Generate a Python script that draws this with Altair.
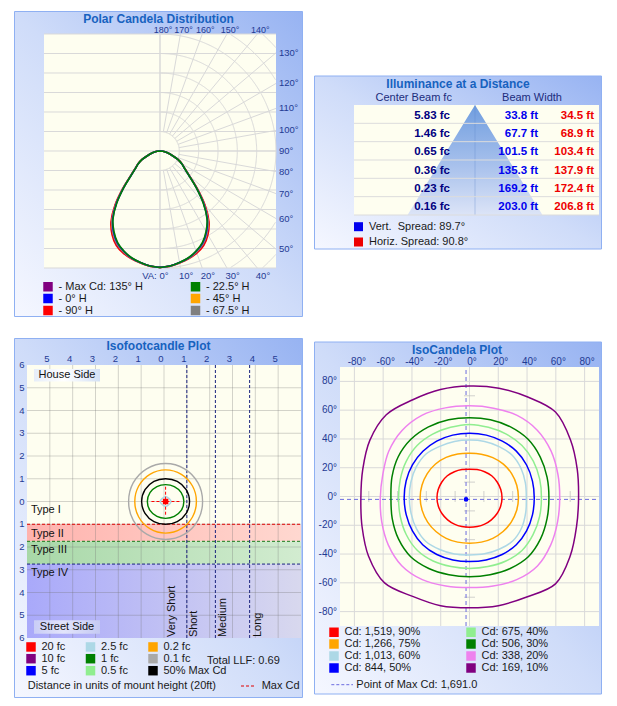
import json
import numpy as np
import pandas as pd
import altair as alt

FONT = "Liberation Sans"
TITLE_COLOR = "#1762bf"
TICK_COLOR = "#1f3a93"
TEXT_COLOR = "#1a1a1a"
FRAME_STROKE = "#8fb0f2"
PLOT_BG = "#fefef0"
GRID = "#d9d9d9"

# ---------------- Polar candela distribution ----------------
POLAR_SERIES = ["- Max Cd: 135° H", "- 0° H", "- 90° H", "- 22.5° H", "- 45° H", "- 67.5° H"]
POLAR_COLORS = ["#800080", "#0000ff", "#ff0000", "#008000", "#ffa500", "#808080"]
POLAR_ANGLES = [0, 5, 10, 15, 20, 25, 30, 35, 40, 45, 50, 55, 60, 65, 70, 75, 80, 85, 90]
CD_90H = [1691, 1680, 1652, 1622, 1578, 1515, 1405, 1252, 1028, 778, 568, 446, 372, 290, 191, 128, 80, 38, 0]
CD_MAX135 = [1691, 1679, 1650, 1616, 1565, 1498, 1385, 1232, 1010, 764, 561, 442, 370, 289, 191, 128, 80, 38, 0]
CD_45H = [1691, 1679, 1649, 1614, 1560, 1490, 1377, 1225, 1005, 761, 559, 441, 370, 289, 190, 128, 80, 38, 0]
CD_675H = [1691, 1679, 1648, 1612, 1556, 1484, 1370, 1218, 999, 757, 557, 440, 369, 288, 190, 128, 80, 38, 0]
CD_0H = [1691, 1678, 1646, 1609, 1551, 1476, 1360, 1208, 992, 752, 554, 439, 368, 288, 190, 128, 80, 38, 0]
CD_225H = [1691, 1678, 1645, 1606, 1546, 1468, 1350, 1200, 985, 748, 552, 438, 368, 288, 190, 128, 80, 38, 0]
POLAR_DRAW = [("- 90° H", CD_90H), ("- Max Cd: 135° H", CD_MAX135), ("- 45° H", CD_45H),
              ("- 67.5° H", CD_675H), ("- 0° H", CD_0H), ("- 22.5° H", CD_225H)]
POLAR_MAX = 1700
POLAR_TICK_LABELS = ["1.700", "1.417", "1,133", "850", "567", "283", "CD: 0",
                     "283", "567", "850", "1.133", "1,417", "1.700"]
POLAR_TOP_ANGLES = [180, 170, 160, 150, 140]
POLAR_RIGHT_ANGLES = [130, 120, 110, 100, 90, 80, 70, 60, 50]
POLAR_BOTTOM_ANGLES = [10, 20, 30, 40]

# ---------------- Illuminance at a distance ----------------
ILLUM_DIST = [17, 34, 51, 68, 85, 102]
ILLUM_FC = [5.83, 1.46, 0.65, 0.36, 0.23, 0.16]
VERT_WIDTH = [33.8, 67.7, 101.5, 135.3, 169.2, 203.0]
HORIZ_WIDTH = [34.5, 68.9, 103.4, 137.9, 172.4, 206.8]
SPREAD_LABELS = ["Vert.\u00a0 Spread: 89.7°", "Horiz. Spread: 90.8°"]
SPREAD_COLORS = ["#0000ee", "#ee0000"]

# ---------------- Isofootcandle ----------------
ISOFC_LEGEND = ["20 fc", "10 fc", "5 fc", "2.5 fc", "1 fc", "0.5 fc", "0.2 fc", "0.1 fc", "50% Max Cd"]
ISOFC_COLORS = ["#ff0000", "#800080", "#0000ff", "#add8e6", "#008000", "#90ee90", "#ffa500", "#a9a9a9", "#000000"]
ISOFC_ANGLES = [0, 30, 60, 90, 120, 150, 180, 210, 240, 270, 300, 330]
ISOFC_CONTOURS = [
    ("0.1 fc", [1.62, 1.64, 1.66, 1.67, 1.66, 1.64, 1.62, 1.64, 1.66, 1.67, 1.66, 1.64]),
    ("0.2 fc", [1.35, 1.36, 1.38, 1.39, 1.38, 1.36, 1.35, 1.36, 1.38, 1.39, 1.38, 1.36]),
    ("50% Max Cd", [1.05, 1.04, 1.02, 1.00, 1.02, 1.04, 1.05, 1.04, 1.02, 1.00, 1.02, 1.04]),
    ("1 fc", [0.80, 0.79, 0.76, 0.74, 0.76, 0.79, 0.80, 0.79, 0.76, 0.74, 0.76, 0.79]),
    ("2.5 fc", [0.24, 0.21, 0.20, 0.22, 0.20, 0.21, 0.24, 0.21, 0.20, 0.22, 0.20, 0.21]),
]
ISOFC_CENTER = (0.07, 0.0)
ISOFC_TYPES = ["Type I", "Type II", "Type III", "Type IV"]
ISOFC_TYPE_Y = [0.36, 1.42, 2.13, 3.13]
ISOFC_BANDS = [(1.0, 1.75, "#ffb3ae", "#ffd8d0"), (1.75, 2.75, "#a8d8a8", "#d2ecd0"), (2.75, 6.0, "#a9a9fa", "#d8d8ee")]
ISOFC_BAND_LINES = [(1.0, "#e00000"), (1.75, "#1a7a1a"), (2.75, "#1a237e")]
ISOFC_DIST_LINES = [1.0, 2.25, 3.75]
ISOFC_DIST_LABELS = ["Very Short", "Short", "Medium", "Long"]
ISOFC_DIST_X = [0.36, 1.32, 2.57, 4.13]
ISOFC_TOP_TICKS = [-5, -4, -3, -2, -1, 0, 1, 2, 3, 4, 5]
ISOFC_TOP_LABELS = ["5", "4", "3", "2", "1", "0", "1", "2", "3", "4", "5"]
ISOFC_SIDE_TICKS = [-6, -5, -4, -3, -2, -1, 0, 1, 2, 3, 4, 5, 6]
ISOFC_SIDE_LABELS = ["6", "5", "4", "3", "2", "1", "0", "1", "2", "3", "4", "5", "6"]

# ---------------- IsoCandela ----------------
ISOCD_LEGEND = ["Cd: 1,519, 90%", "Cd: 1,266, 75%", "Cd: 1,013, 60%", "Cd: 844, 50%",
                "Cd: 675, 40%", "Cd: 506, 30%", "Cd: 338, 20%", "Cd: 169, 10%"]
ISOCD_COLORS = ["#ff0000", "#ffa500", "#add8e6", "#0000ff", "#90ee90", "#008000", "#ee82ee", "#800080"]
ISOCD_ANGLES = list(range(0, 360, 15))
ISOCD_RADII = [
    ("Cd: 169, 10%", [75.8, 77.5, 81.0, 84.5, 81.0, 79.0, 77.8, 78.0, 78.8, 81.8, 80.0, 76.8,
                      75.5, 77.3, 81.0, 83.5, 79.0, 77.5, 76.3, 77.5, 79.5, 84.5, 80.8, 77.0]),
    ("Cd: 338, 20%", [62.7, 63.6, 65.4, 66.6, 66.2, 64.6, 64.0, 64.8, 66.3, 66.3, 64.8, 62.4,
                      62.0, 63.2, 65.2, 66.6, 65.6, 63.4, 62.3, 63.4, 65.6, 66.8, 65.2, 63.4]),
    ("Cd: 506, 30%", [55.2, 55.8, 56.8, 57.6, 57.0, 56.2, 55.7, 56.2, 57.0, 57.6, 57.2, 55.8,
                      54.6, 55.6, 57.0, 57.8, 56.6, 55.2, 54.7, 55.2, 56.6, 57.8, 57.0, 55.8]),
    ("Cd: 675, 40%", [50.0, 50.5, 51.2, 51.6, 51.2, 50.8, 51.1, 50.8, 51.2, 51.5, 50.8, 49.8,
                      49.3, 49.8, 50.8, 51.4, 50.6, 49.4, 49.0, 49.4, 50.6, 51.6, 51.0, 50.4]),
    ("Cd: 844, 50%", [45.0, 45.3, 45.8, 46.0, 45.6, 45.2, 45.0, 45.2, 45.6, 45.8, 45.8, 45.6,
                      45.4, 45.5, 45.8, 46.0, 45.4, 44.6, 44.2, 44.6, 45.4, 46.0, 45.8, 45.3]),
    ("Cd: 1,013, 60%", [39.5, 40.2, 41.3, 42.0, 41.2, 40.6, 40.2, 40.6, 41.4, 43.0, 42.8, 42.2,
                        41.8, 42.0, 42.6, 42.8, 41.4, 40.4, 39.6, 40.2, 41.2, 42.4, 41.8, 40.4]),
    ("Cd: 1,266, 75%", [34.0, 34.0, 33.8, 33.3, 32.4, 31.5, 31.0, 31.6, 32.5, 33.4, 33.9, 34.2,
                        34.3, 34.0, 33.6, 33.0, 32.4, 31.8, 31.5, 31.8, 32.4, 33.0, 33.5, 33.9]),
    ("Cd: 1,519, 90%", [22.6, 22.5, 22.2, 21.8, 21.0, 20.4, 20.0, 20.4, 21.0, 21.8, 22.2, 22.5,
                        22.6, 22.4, 22.0, 21.5, 21.0, 20.6, 20.4, 20.6, 21.0, 21.5, 22.0, 22.4]),
]
ISOCD_CENTER = (0.0, -1.0)
MAX_CD_POINT = (-2.4, -2.0)
ISOCD_TICKS = [-80, -60, -40, -20, 0, 20, 40, 60, 80]
ISOCD_TICK_LABELS = ["-80°", "-60°", "-40°", "-20°", "0°", "20°", "40°", "60°", "80°"]
ISOCD_MINOR = [-70, -50, -30, -10, 10, 30, 50, 70]

ONE = pd.DataFrame({"k": [0]})


def lin_grad(stops, x1=0, y1=0, x2=1, y2=0):
    return alt.LinearGradient(gradient="linear", x1=x1, y1=y1, x2=x2, y2=y2,
                              stops=[alt.GradientStop(color=c, offset=o) for o, c in stops])


FRAME_GRAD = lin_grad([(0, "#f5f7ff"), (0.5, "#cfdcf9"), (1, "#97b3f2")], 0, 1, 1, 0)


def frame(x0, x1, y0, y1):
    return alt.Chart(ONE).mark_rect(fill=FRAME_GRAD, stroke=FRAME_STROKE, strokeWidth=1).encode(
        x=alt.value(x0), x2=alt.value(x1), y=alt.value(y0), y2=alt.value(y1))


def txt(text, x, y, size=11, weight="normal", color=TEXT_COLOR, align="center"):
    return alt.Chart(ONE).mark_text(text=text, font=FONT, fontSize=size, fontWeight=weight,
                                    color=color, align=align, baseline="middle").encode(
        x=alt.value(x), y=alt.value(y))


def axis(orient, values, expr, pad, offset, size=9.5):
    return alt.Axis(orient=orient, values=values, labelExpr=expr, ticks=False, domain=False, grid=False,
                    labelFont=FONT, labelFontSize=size, labelColor=TICK_COLOR, labelPadding=pad,
                    offset=offset, labelFlush=False, labelOverlap=False, title=None, zindex=1)


def square_legend(domain, colors, lx, ly, cols, colpad, rowpad):
    # carrier of the legend; drawn first so the panel frame covers its marks
    return alt.Chart(pd.DataFrame({"c": domain})).mark_square(filled=True, size=10).encode(
        x=alt.value(lx + 5), y=alt.value(ly + 5),
        color=alt.Color("c:N", scale=alt.Scale(domain=domain, range=colors),
                        legend=alt.Legend(title=None, orient="none", legendX=lx, legendY=ly, columns=cols,
                                          columnPadding=colpad, rowPadding=rowpad, symbolType="square",
                                          symbolSize=90, symbolStrokeWidth=0, symbolOpacity=1,
                                          labelFont=FONT, labelFontSize=11, labelColor=TEXT_COLOR,
                                          labelOffset=5, padding=0, zindex=1)))


# ======================= Panel 1: polar (cell 289 x 306) =======================
P_CW, P_CH = 289, 306
PSTEP = POLAR_MAX / 6
PXS = alt.Scale(domain=[-POLAR_MAX, POLAR_MAX], range=[30, 262], nice=False, zero=False)
PYS = alt.Scale(domain=[-POLAR_MAX, POLAR_MAX], range=[257, 23], nice=False, zero=False)


def pX(f):
    return alt.X(f, scale=PXS, axis=None)


def pY(f, ax=None):
    return alt.Y(f, scale=PYS, axis=ax)


pol_rows = []
for name, vals in POLAR_DRAW:
    for a, cd in zip(POLAR_ANGLES, vals):
        t = np.radians(a)
        for s in (-1, 1):
            pol_rows.append({"series": name, "a": s * a, "x": s * cd * np.sin(t), "y": -cd * np.cos(t)})
pol_df = pd.DataFrame(pol_rows)

arc_rows = []
seg = 0
for k in range(1, 9):
    r = k * PSTEP
    prev_in = False
    for a10 in range(0, 1801, 5):
        t = np.radians(a10 / 10)
        x, y = r * np.sin(t), -r * np.cos(t)
        inside = abs(x) <= POLAR_MAX + 1e-6 and abs(y) <= POLAR_MAX + 1e-6
        if inside:
            if not prev_in:
                seg += 1
            arc_rows.append({"seg": seg, "a": a10, "x": x, "y": y})
        prev_in = inside
arc_df = pd.DataFrame(arc_rows)

rad_rows = []
for a in range(0, 181, 10):
    t = np.radians(a)
    s, c = np.sin(t), np.cos(t)
    lim = min(POLAR_MAX / abs(s) if abs(s) > 1e-9 else 1e9, POLAR_MAX / abs(c) if abs(c) > 1e-9 else 1e9)
    rad_rows.append({"x": PSTEP * s, "y": -PSTEP * c, "x2": lim * s, "y2": -lim * c})
rad_df = pd.DataFrame(rad_rows)

top_df = pd.DataFrame({"a": POLAR_TOP_ANGLES})
top_df["x"] = POLAR_MAX * np.tan(np.radians(180 - top_df["a"]))
top_df["y"] = POLAR_MAX
top_df["t"] = top_df["a"].astype(str) + "°"
right_df = pd.DataFrame({"a": POLAR_RIGHT_ANGLES})
right_df["x"] = POLAR_MAX
right_df["y"] = -POLAR_MAX * np.cos(np.radians(right_df["a"])) / np.sin(np.radians(right_df["a"]))
right_df["t"] = right_df["a"].astype(str) + "°"
bot_df = pd.DataFrame({"a": POLAR_BOTTOM_ANGLES})
bot_df["x"] = POLAR_MAX * np.tan(np.radians(bot_df["a"]))
bot_df["y"] = -POLAR_MAX
bot_df["t"] = bot_df["a"].astype(str) + "°"
va_df = pd.DataFrame({"x": [0], "y": [-POLAR_MAX], "t": ["VA: 0°"]})

POLAR_TICKS = [k * PSTEP for k in range(-6, 7)]
POLAR_EXPR = json.dumps(POLAR_TICK_LABELS) + "[round(datum.value / %.6f) + 6]" % PSTEP
PBOX = pd.DataFrame({"x0": [-POLAR_MAX], "x1": [POLAR_MAX], "y0": [-POLAR_MAX], "y1": [POLAR_MAX]})


def ptext(df, size=9.5, **kw):
    return alt.Chart(df).mark_text(font=FONT, fontSize=size, color=TICK_COLOR, baseline="middle", **kw).encode(
        x=pX("x:Q"), y=pY("y:Q"), text="t:N")


hgrid_df = pd.DataFrame({"v": POLAR_TICKS, "x0": -POLAR_MAX, "x1": POLAR_MAX})

polar = alt.layer(
    square_legend(POLAR_SERIES, POLAR_COLORS, 28.5, 270, 2, 46.5, 0),
    frame(0.5, P_CW - 0.5, 0.5, P_CH - 0.5),
    alt.Chart(PBOX).mark_rect(fill=PLOT_BG).encode(x=pX("x0:Q"), x2="x1:Q", y=pY("y0:Q"), y2="y1:Q"),
    alt.Chart(hgrid_df).mark_rule(color=GRID).encode(
        y=pY("v:Q", axis("left", POLAR_TICKS, POLAR_EXPR, 4, -30)), x=pX("x0:Q"), x2="x1:Q"),
    alt.Chart(pd.DataFrame({"v": [0], "y0": [-POLAR_MAX], "y1": [POLAR_MAX]})).mark_rule(color=GRID).encode(
        x=pX("v:Q"), y=pY("y0:Q"), y2="y1:Q"),
    alt.Chart(arc_df).mark_line(color=GRID, strokeWidth=1).encode(
        x=pX("x:Q"), y=pY("y:Q"), detail="seg:N", order="a:Q"),
    alt.Chart(rad_df).mark_rule(color=GRID).encode(x=pX("x:Q"), y=pY("y:Q"), x2="x2:Q", y2="y2:Q"),
    alt.Chart(pol_df).mark_line(strokeWidth=1.6, interpolate="cardinal").encode(
        x=pX("x:Q"), y=pY("y:Q"), order="a:Q",
        stroke=alt.Stroke("series:N", scale=alt.Scale(domain=POLAR_SERIES, range=POLAR_COLORS), legend=None)),
    ptext(top_df, size=9, align="center", dx=3, dy=-4),
    ptext(right_df, align="left", dx=3),
    ptext(bot_df, align="left", dx=-1.5, dy=8),
    ptext(va_df, align="right", dx=8.5, dy=8),
    txt("Polar Candela Distribution", 144.5, 8, 12, "bold", TITLE_COLOR),
).properties(width=P_CW, height=P_CH)

# ======================= Panel 2: illuminance (cell 288 x 306) =======================
I_CW, I_CH = 288, 306
IXS = alt.Scale(domain=[-182, 186.5], range=[40, 285], nice=False, zero=False)
IYS = alt.Scale(domain=[0, 102], range=[94, 204], nice=False, zero=False)


def iX(f):
    return alt.X(f, scale=IXS, axis=None)


def iY(f, ax=None):
    return alt.Y(f, scale=IYS, axis=ax)


tri_df = pd.DataFrame({"d": [0] + ILLUM_DIST, "w": [0.0] + VERT_WIDTH})
tri_df["xl"] = -tri_df["w"] / 2
tri_df["xr"] = tri_df["w"] / 2
TRI_GRAD = lin_grad([(0, "#6f9ddf"), (0.55, "#a8c1ec"), (1, "#dce4f7")], 0, 0, 0, 1)

row_df = pd.DataFrame({"d": ILLUM_DIST,
                       "fc": ["%.2f fc" % v for v in ILLUM_FC],
                       "vw": ["%.1f ft" % v for v in VERT_WIDTH],
                       "hw": ["%.1f ft" % v for v in HORIZ_WIDTH]})
row_df["yc"] = row_df["d"] - 8.5
v_df = row_df.assign(plane=SPREAD_LABELS[0], t=row_df["vw"])
h_df = row_df.assign(plane=SPREAD_LABELS[1], t=row_df["hw"])
spread_color = alt.Color("plane:N", scale=alt.Scale(domain=SPREAD_LABELS, range=SPREAD_COLORS),
                         legend=alt.Legend(title=None, orient="none", legendX=39, legendY=210.2,
                                           rowPadding=3.3, symbolType="square", symbolSize=81,
                                           symbolStrokeWidth=0, labelFont=FONT, labelFontSize=11,
                                           labelColor=TEXT_COLOR, labelOffset=5, padding=0, zindex=1))


def beam_text(df, xpix):
    return alt.Chart(df).mark_text(font=FONT, fontSize=11.5, fontWeight="bold", align="right",
                                   baseline="middle", dy=1.5).encode(
        x=alt.value(xpix), y=iY("yc:Q"), text="t:N", color=spread_color)


IBOX = pd.DataFrame({"x0": [-182], "x1": [186.5], "y0": [0], "y1": [102]})

illum = alt.layer(
    frame(0.5, I_CW - 0.5, 65, 238),
    alt.Chart(IBOX).mark_rect(fill=PLOT_BG).encode(x=iX("x0:Q"), x2="x1:Q", y=iY("y0:Q"), y2="y1:Q"),
    alt.Chart(tri_df).mark_area(orient="horizontal", color=TRI_GRAD).encode(
        x=iX("xl:Q"), x2="xr:Q", y=iY("d:Q")),
    alt.Chart(pd.DataFrame({"x": [0], "y0": [0], "y1": [102]})).mark_rule(color="#5f86c8", opacity=0.35).encode(
        x=iX("x:Q"), y=iY("y0:Q"), y2="y1:Q"),
    alt.Chart(pd.DataFrame({"v": ILLUM_DIST, "x0": -182, "x1": 186.5})).mark_rule(color="#dcdcdc").encode(
        y=iY("v:Q", axis("left", ILLUM_DIST, "format(datum.value, '.1f') + 'ft'", 3, -40)),
        x=iX("x0:Q"), x2="x1:Q"),
    alt.Chart(row_df).mark_text(font=FONT, fontSize=11.5, fontWeight="bold", align="right",
                                baseline="middle", dy=1.5, color="#000080").encode(
        x=alt.value(136), y=iY("yc:Q"), text="fc:N"),
    beam_text(v_df, 224),
    beam_text(h_df, 280),
    txt("Illuminance at a Distance", 144, 73, 12, "bold", TITLE_COLOR),
    txt("Center Beam fc", 99.7, 86.7, 11, color="#1c2c7c"),
    txt("Beam Width", 218, 86.7, 11, color="#1c2c7c"),
).properties(width=I_CW, height=I_CH)

# ======================= Panel 3: isofootcandle (cell 289 x 360) =======================
F_CW, F_CH = 289, 360
FXS = alt.Scale(domain=[-6, 6], range=[13, 287], nice=False, zero=False)
FYS = alt.Scale(domain=[-6, 6], range=[27, 300], nice=False, zero=False)


def fX(f):
    return alt.X(f, scale=FXS, axis=None)


def fY(f):
    return alt.Y(f, scale=FYS, axis=None)


def band(y0, y1, c0, c1):
    return alt.Chart(pd.DataFrame({"x0": [-6], "x1": [6], "y0": [y0], "y1": [y1]})).mark_rect(
        fill=lin_grad([(0, c0), (1, c1)])).encode(x=fX("x0:Q"), x2="x1:Q", y=fY("y0:Q"), y2="y1:Q")


def band_line(yv, col):
    return alt.Chart(pd.DataFrame({"y": [yv], "x0": [-6], "x1": [6]})).mark_rule(
        strokeDash=[3, 2], strokeWidth=1, color=col).encode(y=fY("y:Q"), x=fX("x0:Q"), x2="x1:Q")


fc_rows = []
for name, radii in ISOFC_CONTOURS:
    for a, r in zip(ISOFC_ANGLES, radii):
        t = np.radians(a)
        fc_rows.append({"level": name, "a": a,
                        "x": ISOFC_CENTER[0] + r * np.cos(t), "y": ISOFC_CENTER[1] + r * np.sin(t)})
fc_df = pd.DataFrame(fc_rows)

cross_df = pd.DataFrame({"x0": [-0.55, ISOFC_CENTER[0]], "x1": [0.7, ISOFC_CENTER[0]],
                         "y0": [ISOFC_CENTER[1], -0.65], "y1": [ISOFC_CENTER[1], 0.65]})

SIDE_BOX_GRAD = lin_grad([(0, "#e6edf9"), (0.45, "#ffffff"), (1, "#d3e0f5")])
STREET_BOX_GRAD = lin_grad([(0, "#c9cdf6"), (0.45, "#e2e4fb"), (1, "#c5caf3")])
FBOX = pd.DataFrame({"x0": [-6], "x1": [6], "y0": [-6], "y1": [6]})

isofc = alt.layer(
    square_legend(ISOFC_LEGEND, ISOFC_COLORS, 11.5, 303.2, 3, 19.5, 0),
    frame(0.5, F_CW - 0.5, 0.5, F_CH - 0.5),
    alt.Chart(FBOX).mark_rect(fill=PLOT_BG).encode(x=fX("x0:Q"), x2="x1:Q", y=fY("y0:Q"), y2="y1:Q"),
    *[band(y0, y1, c0, c1) for (y0, y1, c0, c1) in ISOFC_BANDS],
    alt.Chart(pd.DataFrame({"v": ISOFC_TOP_TICKS, "y0": -6, "y1": 6})).mark_rule(color="#707070", opacity=0.3).encode(
        x=fX("v:Q"), y=fY("y0:Q"), y2="y1:Q"),
    alt.Chart(pd.DataFrame({"v": ISOFC_TOP_TICKS, "x0": -6, "x1": 6})).mark_rule(color="#707070", opacity=0.3).encode(
        y=fY("v:Q"), x=fX("x0:Q"), x2="x1:Q"),
    alt.Chart(pd.DataFrame({"v": ISOFC_TOP_TICKS, "t": ISOFC_TOP_LABELS})).mark_text(
        font=FONT, fontSize=9.5, color=TICK_COLOR, align="center", baseline="middle", dx=-3).encode(
        x=fX("v:Q"), y=alt.value(21), text="t:N"),
    alt.Chart(pd.DataFrame({"v": ISOFC_SIDE_TICKS, "t": ISOFC_SIDE_LABELS})).mark_text(
        font=FONT, fontSize=9.5, color=TICK_COLOR, align="right", baseline="middle").encode(
        x=alt.value(10.5), y=fY("v:Q"), text="t:N"),
    *[band_line(yv, col) for (yv, col) in ISOFC_BAND_LINES],
    alt.Chart(pd.DataFrame({"x": ISOFC_DIST_LINES, "y0": -6, "y1": 6})).mark_rule(
        color="#1a237e", strokeDash=[3, 2], strokeWidth=1).encode(x=fX("x:Q"), y=fY("y0:Q"), y2="y1:Q"),
    alt.Chart(pd.DataFrame({"x": [-5.83] * 4, "y": ISOFC_TYPE_Y, "t": ISOFC_TYPES})).mark_text(
        font=FONT, fontSize=11, color="#111111", align="left", baseline="middle").encode(
        x=fX("x:Q"), y=fY("y:Q"), text="t:N"),
    alt.Chart(pd.DataFrame({"x": ISOFC_DIST_X, "y": [5.96] * 4, "t": ISOFC_DIST_LABELS})).mark_text(
        font=FONT, fontSize=11, color="#111111", align="left", baseline="middle", angle=270).encode(
        x=fX("x:Q"), y=fY("y:Q"), text="t:N"),
    alt.Chart(fc_df).mark_line(strokeWidth=1.4, interpolate="cardinal-closed").encode(
        x=fX("x:Q"), y=fY("y:Q"), order="a:Q",
        stroke=alt.Stroke("level:N", scale=alt.Scale(domain=ISOFC_LEGEND, range=ISOFC_COLORS), legend=None)),
    alt.Chart(cross_df).mark_rule(color="#ff0000", strokeDash=[3, 2], strokeWidth=1).encode(
        x=fX("x0:Q"), x2="x1:Q", y=fY("y0:Q"), y2="y1:Q"),
    alt.Chart(pd.DataFrame({"x": [ISOFC_CENTER[0]], "y": [ISOFC_CENTER[1]]})).mark_square(
        size=30, color="#ff0000", filled=True, opacity=1).encode(x=fX("x:Q"), y=fY("y:Q")),
    alt.Chart(ONE).mark_rect(fill=SIDE_BOX_GRAD).encode(
        x=alt.value(20), x2=alt.value(86), y=alt.value(31), y2=alt.value(43.5)),
    txt("House Side", 53, 37.3, 11, color="#111111"),
    alt.Chart(ONE).mark_rect(fill=STREET_BOX_GRAD).encode(
        x=alt.value(20), x2=alt.value(86), y=alt.value(282.3), y2=alt.value(295.7)),
    txt("Street Side", 53, 289, 11, color="#111111"),
    txt("Isofootcandle Plot", 144.5, 8, 12, "bold", TITLE_COLOR),
    txt("Total LLF: 0.69", 193, 322.7, 11, align="left"),
    txt("Distance in units of mount height (20ft)", 13.7, 348.3, 11, align="left"),
    alt.Chart(ONE).mark_rule(color="#e00000", strokeDash=[3, 2], strokeWidth=1).encode(
        x=alt.value(227), x2=alt.value(242), y=alt.value(348)),
    txt("Max Cd", 247.7, 348.3, 11, align="left"),
).properties(width=F_CW, height=F_CH)

# ======================= Panel 4: isocandela (cell 288 x 360) =======================
C_CW, C_CH = 288, 360
CXS = alt.Scale(domain=[-90, 90], range=[26, 285], nice=False, zero=False)
CYS = alt.Scale(domain=[-90, 90], range=[288, 29], nice=False, zero=False)


def cX(f):
    return alt.X(f, scale=CXS, axis=None)


def cY(f):
    return alt.Y(f, scale=CYS, axis=None)


cd_rows = []
for name, radii in ISOCD_RADII:
    for a, r in zip(ISOCD_ANGLES, radii):
        t = np.radians(a)
        cd_rows.append({"level": name, "a": a,
                        "x": ISOCD_CENTER[0] + r * np.cos(t), "y": ISOCD_CENTER[1] + r * np.sin(t)})
cd_df = pd.DataFrame(cd_rows)
CBOX = pd.DataFrame({"x0": [-90], "x1": [90], "y0": [-90], "y1": [90]})
cd_tick_df = pd.DataFrame({"v": ISOCD_TICKS, "t": ISOCD_TICK_LABELS})

isocd = alt.layer(
    square_legend(ISOCD_LEGEND, ISOCD_COLORS, 14.5, 288.5, 2, 45, 0),
    frame(0.5, C_CW - 0.5, 4, 356),
    alt.Chart(CBOX).mark_rect(fill=PLOT_BG).encode(x=cX("x0:Q"), x2="x1:Q", y=cY("y0:Q"), y2="y1:Q"),
    alt.Chart(pd.DataFrame({"v": ISOCD_TICKS, "y0": -90, "y1": 90})).mark_rule(color=GRID).encode(
        x=cX("v:Q"), y=cY("y0:Q"), y2="y1:Q"),
    alt.Chart(pd.DataFrame({"v": ISOCD_TICKS, "x0": -90, "x1": 90})).mark_rule(color=GRID).encode(
        y=cY("v:Q"), x=cX("x0:Q"), x2="x1:Q"),
    alt.Chart(cd_tick_df).mark_text(font=FONT, fontSize=10, color=TICK_COLOR, align="center",
                                    baseline="middle", dx=2.5).encode(
        x=cX("v:Q"), y=alt.value(24), text="t:N"),
    alt.Chart(cd_tick_df).mark_text(font=FONT, fontSize=10, color=TICK_COLOR, align="right",
                                    baseline="middle").encode(
        x=alt.value(23), y=cY("v:Q"), text="t:N"),
    alt.Chart(pd.DataFrame({"z": [0] * 8, "v": ISOCD_MINOR})).mark_tick(
        orient="horizontal", size=11, thickness=1, color="#bdbdbd").encode(x=cX("z:Q"), y=cY("v:Q")),
    alt.Chart(pd.DataFrame({"z": [0] * 8, "v": ISOCD_MINOR})).mark_tick(
        orient="vertical", size=11, thickness=1, color="#bdbdbd").encode(x=cX("v:Q"), y=cY("z:Q")),
    alt.Chart(pd.DataFrame({"x": [MAX_CD_POINT[0]], "y0": [-90], "y1": [90]})).mark_rule(
        color="#6b6bdf", strokeDash=[4, 3], strokeWidth=1).encode(x=cX("x:Q"), y=cY("y0:Q"), y2="y1:Q"),
    alt.Chart(pd.DataFrame({"y": [MAX_CD_POINT[1]], "x0": [-90], "x1": [90]})).mark_rule(
        color="#6b6bdf", strokeDash=[4, 3], strokeWidth=1).encode(y=cY("y:Q"), x=cX("x0:Q"), x2="x1:Q"),
    alt.Chart(cd_df).mark_line(strokeWidth=1.5, interpolate="cardinal-closed").encode(
        x=cX("x:Q"), y=cY("y:Q"), order="a:Q",
        stroke=alt.Stroke("level:N", scale=alt.Scale(domain=ISOCD_LEGEND, range=ISOCD_COLORS), legend=None)),
    alt.Chart(pd.DataFrame({"x": [MAX_CD_POINT[0]], "y": [MAX_CD_POINT[1]]})).mark_circle(
        size=22, color="#0000ff", opacity=1).encode(x=cX("x:Q"), y=cY("y:Q")),
    txt("IsoCandela Plot", 143, 12, 12, "bold", TITLE_COLOR),
    alt.Chart(ONE).mark_rule(color="#6b6bdf", strokeDash=[3, 2], strokeWidth=1).encode(
        x=alt.value(17.3), x2=alt.value(39), y=alt.value(346.7)),
    txt("Point of Max Cd: 1,691.0", 42.3, 346.9, 11, align="left"),
).properties(width=C_CW, height=C_CH)

chart = alt.concat(
    polar, illum, isofc, isocd, columns=2, align="each", spacing={"row": 19, "column": 9}
).resolve_scale(color="independent", stroke="independent").configure_view(
    stroke="transparent"
).properties(padding={"left": 5, "top": 2, "right": 2, "bottom": 2})

chart.save("out.html", embed_options={"renderer": "svg", "actions": False})
